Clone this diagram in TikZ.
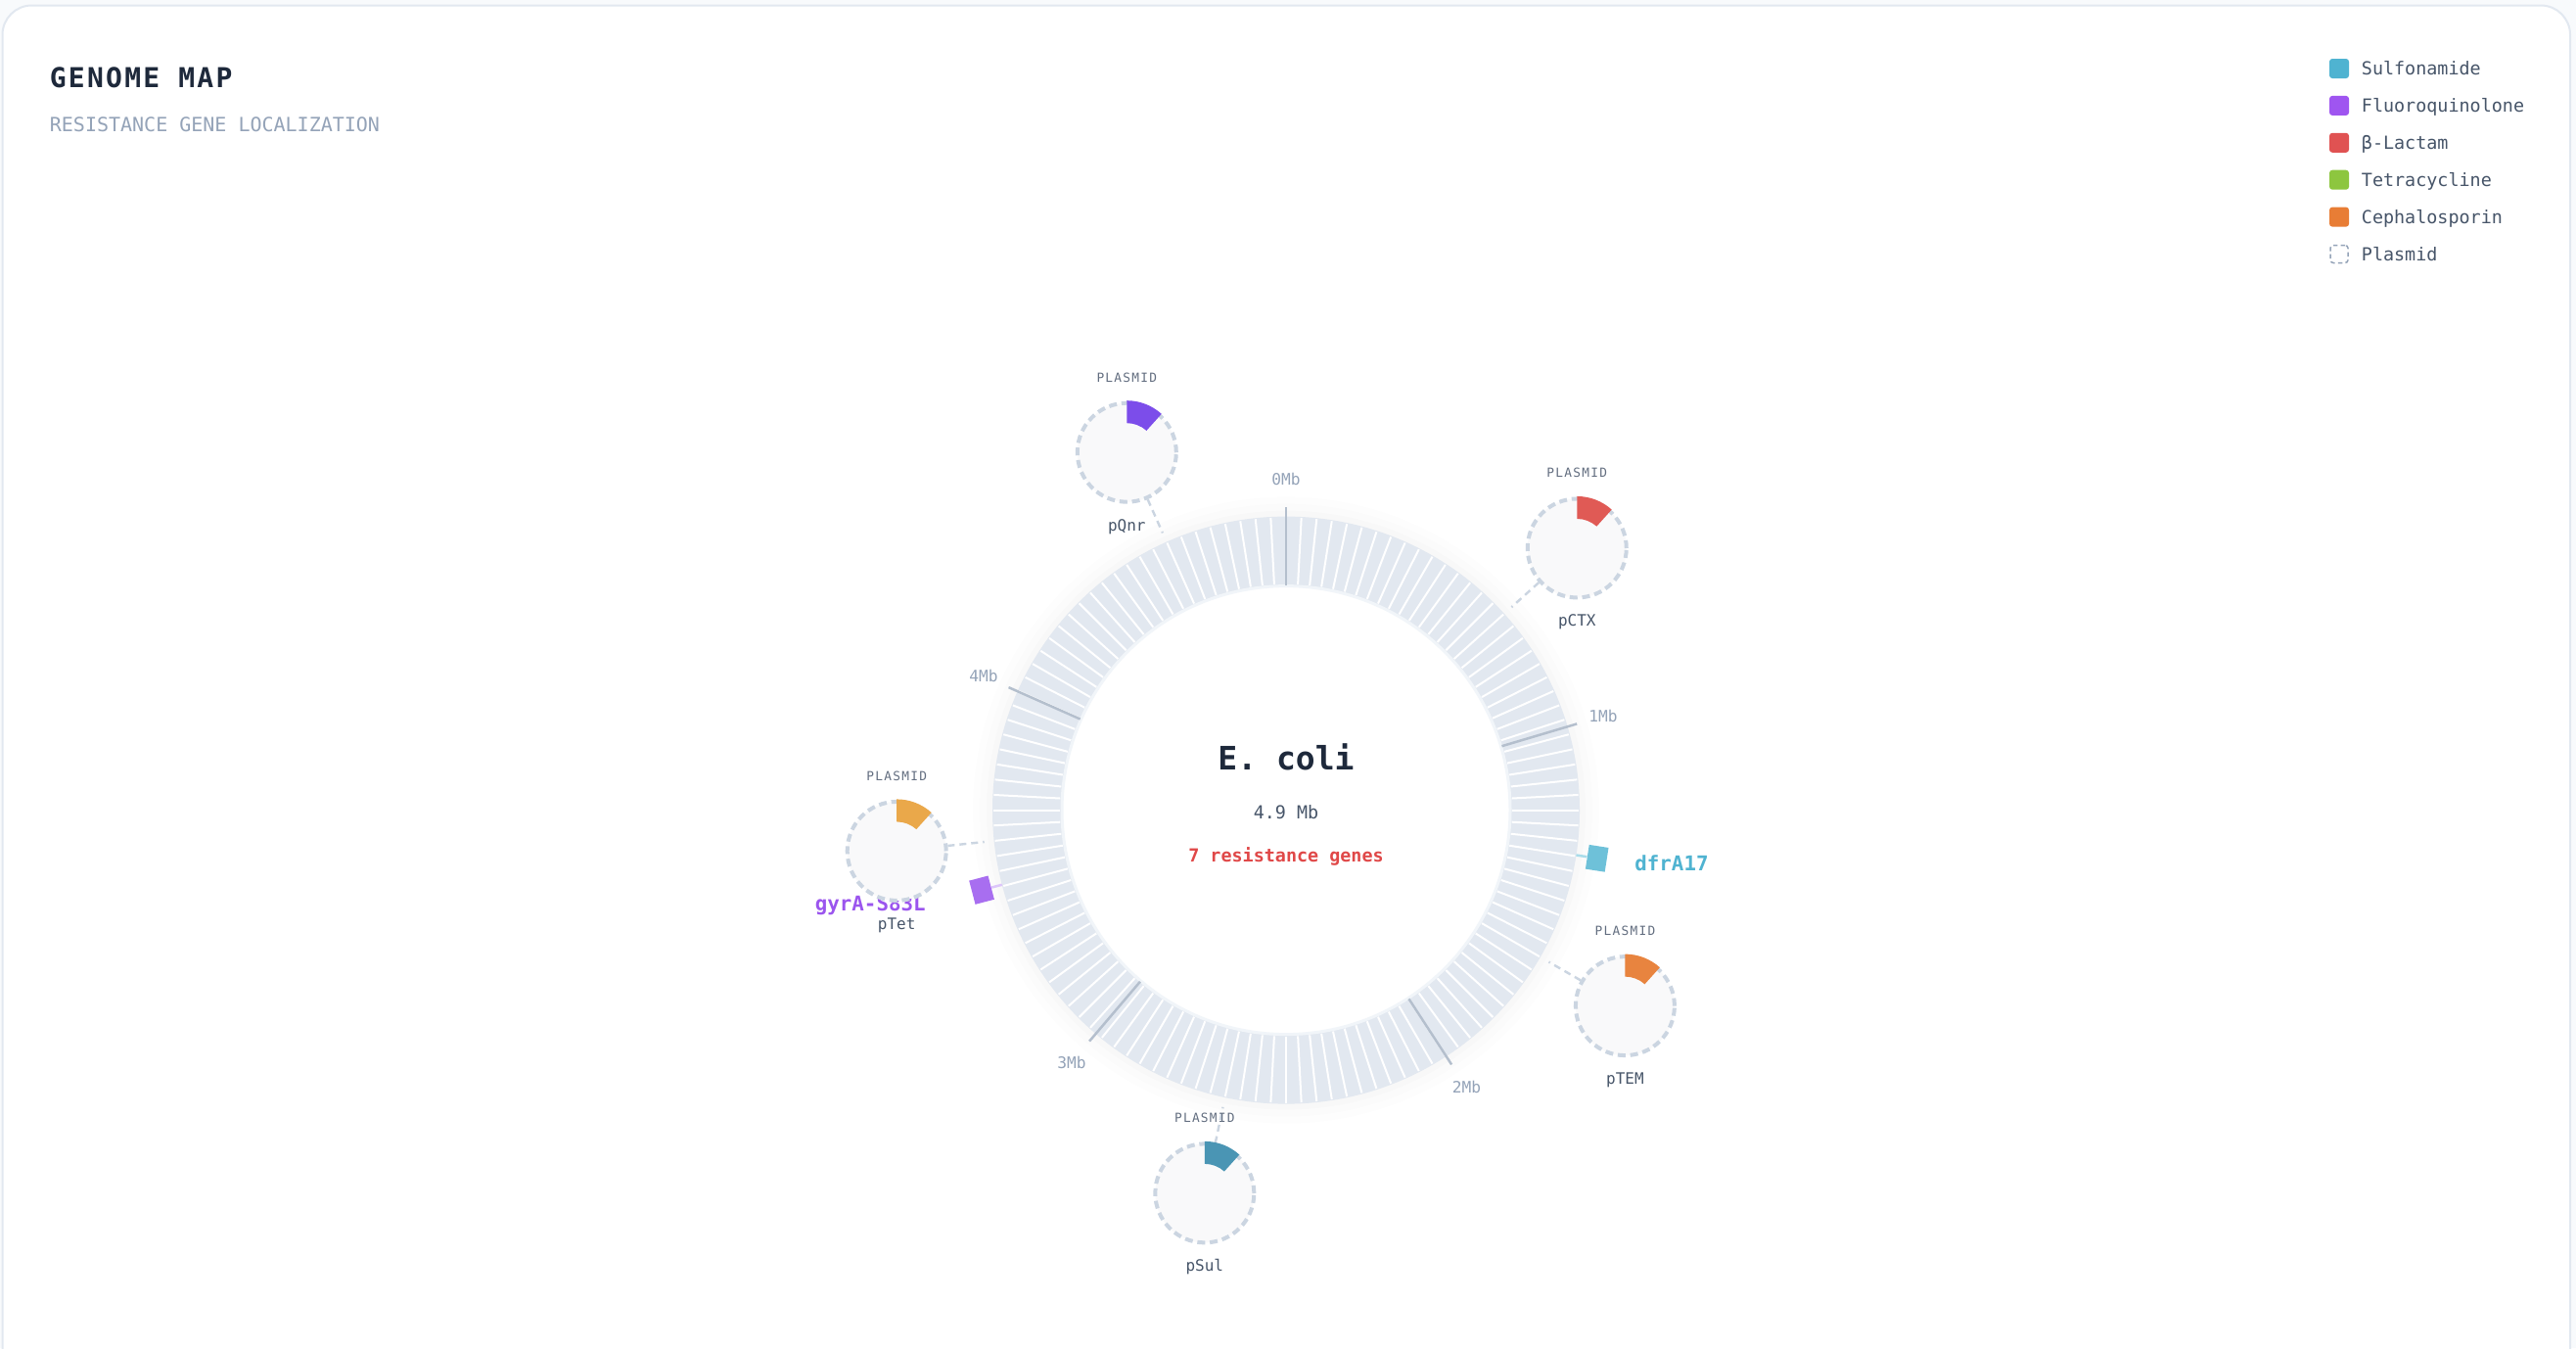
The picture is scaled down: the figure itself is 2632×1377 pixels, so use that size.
\documentclass[tikz,border=0pt]{standalone}
\usepackage{fontspec}
\newfontfamily\mono{DejaVu Sans Mono}
\newfontfamily\monowide[LetterSpace=8]{DejaVu Sans Mono}
\newfontfamily\monotag[LetterSpace=10]{DejaVu Sans Mono}
\usetikzlibrary{calc}

\definecolor{pagebg}{HTML}{F8FAFC}
\definecolor{cardline}{HTML}{E2E8F0}
\definecolor{ink}{HTML}{1E293B}
\definecolor{slate}{HTML}{475569}
\definecolor{muted}{HTML}{94A3B8}
\definecolor{ringfill}{HTML}{E2E8F0}
\definecolor{ringedge}{HTML}{F1F5F9}
\definecolor{plasline}{HTML}{CBD5E1}
\definecolor{plasfill}{HTML}{F9F9FA}
\definecolor{sulfo}{HTML}{4FB3D1}
\definecolor{fluoro}{HTML}{9F55F0}
\definecolor{lactam}{HTML}{E05252}
\definecolor{tetra}{HTML}{8DC63F}
\definecolor{cepha}{HTML}{E87D35}
\definecolor{alert}{HTML}{E04848}
\definecolor{dfrbox}{HTML}{6EC1D9}
\definecolor{dfrstub}{HTML}{A9DCEA}
\definecolor{gyrbox}{HTML}{A86EF0}
\definecolor{gyrstub}{HTML}{DCC6FA}
\definecolor{gyrink}{HTML}{9B55EE}
\definecolor{qnrarc}{HTML}{7C4DEA}
\definecolor{ctxarc}{HTML}{E05A55}
\definecolor{temarc}{HTML}{E8843F}
\definecolor{sularc}{HTML}{4A95B4}
\definecolor{tetarc}{HTML}{EAA84A}

\begin{document}
\begin{tikzpicture}[x=0.5pt,y=0.5pt,yscale=-1,xscale=1,
  legendbox/.style={minimum size=10pt,inner sep=0pt,rounded corners=1.5pt},
  legendtext/.style={anchor=base west,inner sep=0pt,text=slate,font=\mono\fontsize{9.2}{11}\selectfont},
  plasmid/.style={circle,draw=plasline,fill=plasfill,line width=2pt,dash pattern=on 4pt off 2.4pt,minimum size=50.5pt,inner sep=0pt},
  tether/.style={draw=plasline,line width=1.2pt,dash pattern=on 3.5pt off 2.5pt},
  tagtext/.style={anchor=base,inner sep=0pt,text=slate!85,font=\monotag\fontsize{6.4}{7}\selectfont},
  nametext/.style={anchor=base,inner sep=0pt,text=slate,font=\mono\fontsize{8}{9}\selectfont},
  ticktext/.style={inner sep=0pt,text=muted,font=\mono\fontsize{8.1}{9}\selectfont},
  tickline/.style={draw=muted!70,line width=1.25pt},
  genebox/.style={minimum width=10pt,minimum height=12.5pt,inner sep=0pt},
  genetext/.style={inner sep=0pt,font=\mono\bfseries\fontsize{10.4}{12}\selectfont}]

\useasboundingbox (0,0) rectangle (2632,1377);

% page and card
\fill[pagebg] (0,0) rectangle (2632,1377);
\draw[cardline,line width=1pt,fill=white,rounded corners=15pt] (2.5,5.5) rectangle (2626,1430);

% heading
\node[anchor=base west,inner sep=0pt,text=ink,font=\monowide\bfseries\fontsize{14}{16}\selectfont] (title) at (50.5,89.5) {GENOME MAP};
\node[anchor=base west,inner sep=0pt,text=muted,font=\mono\fontsize{10}{12}\selectfont] (subtitle) at (50.5,134.3) {RESISTANCE GENE LOCALIZATION};

% chromosome ring
\coordinate (genome) at (1314,827.6);
\foreach \r/\o in {320/.006,313/.008,306/.012}
  \fill[black,opacity=\o] (genome) circle[radius=\r];
\fill[ringfill,even odd rule] (genome) circle[radius=300] (genome) circle[radius=230];
\fill[white] (genome) circle[radius=229.5];
\foreach \i in {0,...,119}
  \draw[white,line width=1pt] ($(genome)+(\i*3:231)$) -- ($(genome)+(\i*3:299)$);
\draw[ringedge,line width=1.5pt] (genome) circle[radius=229];

% Mb ticks
\foreach \mb in {0,...,4}{
  \draw[tickline] ($(genome)+(\mb*73.469-90:230)$) -- ($(genome)+(\mb*73.469-90:310)$);
  \node[ticktext] (tick\mb) at ($(genome)+(\mb*73.469-90:338)$) {\mb Mb};
}

% centre text
\node[anchor=base,inner sep=0pt,text=ink,font=\mono\bfseries\fontsize{16.5}{19}\selectfont] (species) at (1314,786) {E. coli};
\node[anchor=base,inner sep=0pt,text=slate,font=\mono\fontsize{9.2}{11}\selectfont] (size) at (1314,836) {4.9 Mb};
\node[anchor=base,inner sep=0pt,text=alert,font=\mono\bfseries\fontsize{9.2}{11}\selectfont] (count) at (1314,880) {7 resistance genes};

% chromosomal genes
\coordinate (dfrfoot) at ($(genome)+(8.8:300)$);
\node[genebox,fill=dfrbox,rotate=-8.8] (dfr) at ($(genome)+(8.8:321.5)$) {};
\draw[dfrstub,line width=1.25pt] (dfrfoot) -- (dfr);
\node[genetext,text=sulfo,anchor=base west] (dfrlabel) at (1670,889.3) {dfrA17};

\coordinate (gyrfoot) at ($(genome)+(165.3:300)$);
\node[genebox,fill=gyrbox,rotate=-165.3] (gyr) at ($(genome)+(165.3:321.5)$) {};
\draw[gyrstub,line width=1.25pt] (gyrfoot) -- (gyr);
\node[genetext,text=gyrink,anchor=base east] (gyrlabel) at (946,930) {gyrA-S83L};

% plasmids
\foreach \ang/\nm/\col [count=\k] in {336/pQnr/qnrarc,48/pCTX/ctxarc,120/pTEM/temarc,192/pSul/sularc,264/pTet/tetarc}{
  \coordinate (dock\k) at ($(genome)+(\ang-90:310)$);
  \node[plasmid] (plas\k) at ($(genome)+(\ang-90:400)$) {};
  \draw[tether] (plas\k) -- (dock\k);
  \fill[\col] ($(plas\k)+(-90:53)$) arc[start angle=-90,end angle=-48,radius=53]
    -- ($(plas\k)+(-48:30)$) arc[start angle=-48,end angle=-90,radius=30] -- cycle;
  \node[tagtext] (tag\k) at ($(plas\k)+(0,-72)$) {PLASMID};
  \node[nametext] (name\k) at ($(plas\k)+(0,80)$) {\nm};
}

% legend
\foreach \col/\txt [count=\k] in {sulfo/Sulfonamide,fluoro/Fluoroquinolone,lactam/β-Lactam,tetra/Tetracycline,cepha/Cephalosporin}{
  \node[legendbox,fill=\col] (key\k) at (2390,32.1+37.9*\k) {};
  \node[legendtext] (keytext\k) at (2412.5,38.6+37.9*\k) {\txt};
}
\node[legendbox,minimum size=9pt,draw=muted,line width=0.75pt,dash pattern=on 2.2pt off 1.6pt] (key6) at (2390,259.5) {};
\node[legendtext] (keytext6) at (2412.5,266) {Plasmid};

\end{tikzpicture}
\end{document}
